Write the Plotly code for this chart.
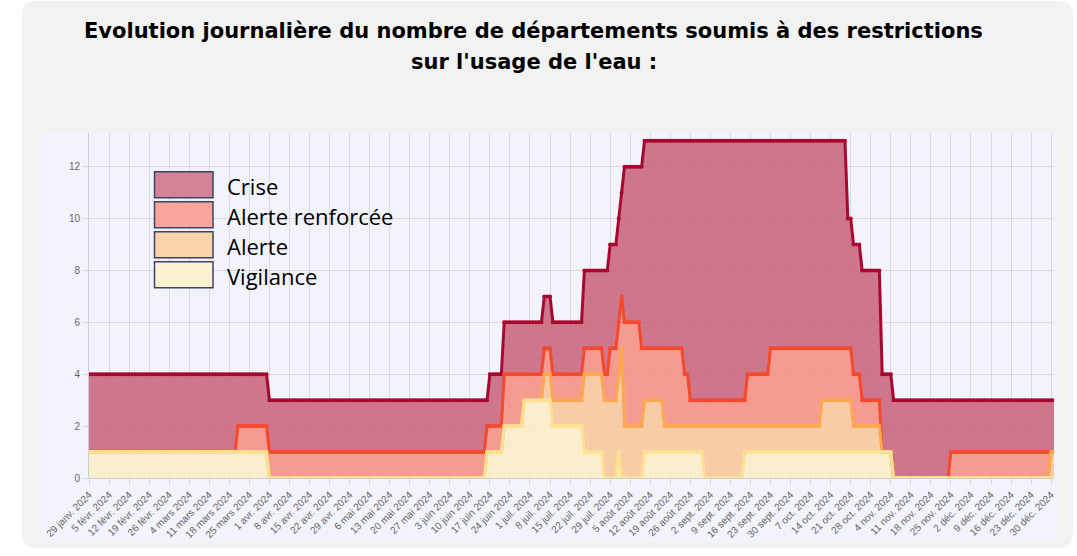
import pandas as pd
import plotly.graph_objects as go

# ---------------- DATA (step series: value holds from each date until the next) -------------
START = "2024-01-29"
END = "2024-12-31"

crise_dates = ["2024-01-29", "2024-04-01", "2024-06-17", "2024-06-22", "2024-07-06", "2024-07-09",
               "2024-07-20", "2024-07-29", "2024-08-01", "2024-08-02", "2024-08-03", "2024-08-10",
               "2024-10-20", "2024-10-22", "2024-10-25", "2024-11-01", "2024-11-05"]
crise_vals = [4, 3, 4, 6, 7, 6, 8, 9, 10, 11, 12, 13, 10, 9, 8, 4, 3]

renf_dates = ["2024-01-29", "2024-03-21", "2024-04-01", "2024-06-16", "2024-06-22", "2024-07-06",
              "2024-07-09", "2024-07-20", "2024-07-27", "2024-07-29", "2024-08-01", "2024-08-02",
              "2024-08-03", "2024-08-09", "2024-08-24", "2024-08-26", "2024-09-15", "2024-09-23",
              "2024-10-22", "2024-10-25", "2024-11-01", "2024-11-05", "2024-11-25"]
renf_vals = [1, 2, 1, 2, 4, 5, 4, 5, 4, 5, 6, 7, 6, 5, 4, 3, 4, 5, 4, 3, 1, 0, 1]

alerte_dates = ["2024-01-29", "2024-04-01", "2024-06-16", "2024-06-22", "2024-06-29", "2024-07-06",
                "2024-07-09", "2024-07-20", "2024-07-27", "2024-08-01", "2024-08-02", "2024-08-03",
                "2024-08-10", "2024-08-17", "2024-10-11", "2024-10-22", "2024-11-01", "2024-11-05",
                "2024-12-30"]
alerte_vals = [1, 0, 1, 2, 3, 4, 3, 4, 3, 4, 5, 2, 3, 2, 3, 2, 1, 0, 1]

vigil_dates = ["2024-01-29", "2024-04-01", "2024-06-16", "2024-06-22", "2024-06-29", "2024-07-09",
               "2024-07-20", "2024-07-27", "2024-08-01", "2024-08-02", "2024-08-10", "2024-08-31",
               "2024-09-14", "2024-11-05"]
vigil_vals = [1, 0, 1, 2, 3, 2, 1, 0, 1, 0, 1, 0, 1, 0]

tick_labels = ["29 janv. 2024", "5 févr. 2024", "12 févr. 2024", "19 févr. 2024", "26 févr. 2024",
               "4 mars 2024", "11 mars 2024", "18 mars 2024", "25 mars 2024", "1 avr. 2024",
               "8 avr. 2024", "15 avr. 2024", "22 avr. 2024", "29 avr. 2024", "6 mai 2024",
               "13 mai 2024", "20 mai 2024", "27 mai 2024", "3 juin 2024", "10 juin 2024",
               "17 juin 2024", "24 juin 2024", "1 juil. 2024", "8 juil. 2024", "15 juil. 2024",
               "22 juil. 2024", "29 juil. 2024", "5 août 2024", "12 août 2024", "19 août 2024",
               "26 août 2024", "2 sept. 2024", "9 sept. 2024", "16 sept. 2024", "23 sept. 2024",
               "30 sept. 2024", "7 oct. 2024", "14 oct. 2024", "21 oct. 2024", "28 oct. 2024",
               "4 nov. 2024", "11 nov. 2024", "18 nov. 2024", "25 nov. 2024", "2 déc. 2024",
               "9 déc. 2024", "16 déc. 2024", "23 déc. 2024", "30 déc. 2024"]

legend_names = ["Crise", "Alerte renforcée", "Alerte", "Vigilance"]
title_lines = ["Evolution journalière du nombre de départements soumis à des restrictions",
               "sur l'usage de l'eau :"]

# ---------------- build ----------------
days = pd.date_range(START, END, freq="D")


def expand(dates, vals):
    s = pd.Series(vals, index=pd.to_datetime(dates))
    return s.reindex(days, method="ffill").values


series = {
    "Crise": expand(crise_dates, crise_vals),
    "Alerte renforcée": expand(renf_dates, renf_vals),
    "Alerte": expand(alerte_dates, alerte_vals),
    "Vigilance": expand(vigil_dates, vigil_vals),
}

line_col = {
    "Crise": "rgb(168,8,45)",
    "Alerte renforcée": "rgb(247,72,44)",
    "Alerte": "rgb(253,168,78)",
    "Vigilance": "rgb(254,226,146)",
}
fill_col = {
    "Crise": "rgba(198,95,120,0.85)",
    "Alerte renforcée": "rgba(246,139,126,0.85)",
    "Alerte": "rgba(247,196,150,0.85)",
    "Vigilance": "rgba(251,236,197,0.85)",
}
legend_box = {
    "Crise": "rgb(212,130,150)",
    "Alerte renforcée": "rgb(250,165,155)",
    "Alerte": "rgb(251,212,170)",
    "Vigilance": "rgb(251,240,210)",
}

fig = go.Figure()

# fills (stacked bands, no overlap)
for i, name in enumerate(["Vigilance", "Alerte", "Alerte renforcée", "Crise"]):
    fig.add_trace(go.Scatter(
        x=days, y=series[name], mode="none",
        fill="tozeroy" if i == 0 else "tonexty",
        fillcolor=fill_col[name], showlegend=False, hoverinfo="skip"))

# lines + points (Vigilance drawn last, on top)
for name in ["Crise", "Alerte renforcée", "Alerte", "Vigilance"]:
    fig.add_trace(go.Scatter(
        x=days, y=series[name], mode="lines+markers", name=name,
        line=dict(color=line_col[name], width=3),
        marker=dict(color=line_col[name], size=4),
        showlegend=False))

W, H = 1077, 556
L, R, T, B = 89, 23, 133, 78
PW, PH = W - L - R, H - T - B


def px(x):
    return (x - L) / PW


def py(y):
    return (H - B - y) / PH


shapes = []
# card
x0, x1, y0, y1, r = px(22), px(1073), py(1), py(548), 14 / PW
ry = 14 / PH
card_path = (f"M {x0 + r},{y0} L {x1 - r},{y0} Q {x1},{y0} {x1},{y0 - ry} "
             f"L {x1},{y1 + ry} Q {x1},{y1} {x1 - r},{y1} L {x0 + r},{y1} "
             f"Q {x0},{y1} {x0},{y1 + ry} L {x0},{y0 - ry} Q {x0},{y0} {x0 + r},{y0} Z")
shapes.append(dict(type="path", xref="paper", yref="paper", path=card_path,
                   fillcolor="rgb(242,242,242)", line=dict(width=0), layer="below"))
# chart panel
shapes.append(dict(type="rect", xref="paper", yref="paper", x0=px(41), x1=px(1058),
                   y0=py(133), y1=py(542), fillcolor="rgb(243,243,252)",
                   line=dict(width=0), layer="below"))

annotations = []
# manual legend
for k, name in enumerate(legend_names):
    top = 171.7 + 30 * k
    shapes.append(dict(type="rect", xref="paper", yref="paper", x0=px(154.5), x1=px(213),
                       y0=py(top), y1=py(top + 26), fillcolor=legend_box[name],
                       line=dict(color="rgb(58,68,104)", width=1.5), layer="above"))
    annotations.append(dict(xref="paper", yref="paper", x=px(225), y=py(top + 14),
                            xanchor="left", yanchor="middle", text=name, showarrow=False,
                            font=dict(family="Open Sans", size=22, color="black")))

# title
for k, t in enumerate(title_lines):
    annotations.append(dict(xref="paper", yref="paper", x=px(533.5), y=py(31 + 31 * k),
                            xanchor="center", yanchor="middle", text=f"<b>{t}</b>",
                            showarrow=False,
                            font=dict(family="DejaVu Sans", size=21, color="black")))

tick_vals = pd.date_range(START, periods=len(tick_labels), freq="7D")

fig.update_layout(
    width=W, height=H,
    margin=dict(l=L, r=R, t=T, b=B, pad=0),
    paper_bgcolor="white", plot_bgcolor="rgb(243,243,252)",
    shapes=shapes, annotations=annotations, showlegend=False,
    xaxis=dict(range=[days[0], days[-1]], tickvals=tick_vals, ticktext=tick_labels,
               tickangle=-45, tickfont=dict(family="Liberation Sans", size=10, color="#666"),
               showgrid=True, gridcolor="rgba(0,0,0,0.1)", gridwidth=1,
               ticks="outside", ticklen=6, tickcolor="rgba(0,0,0,0.1)",
               showline=True, linecolor="rgba(0,0,0,0.15)", zeroline=False),
    yaxis=dict(range=[0, 13.3], tickvals=[0, 2, 4, 6, 8, 10, 12],
               tickfont=dict(family="Liberation Sans", size=10, color="#666"),
               showgrid=True, gridcolor="rgba(0,0,0,0.1)", gridwidth=1,
               ticks="outside", ticklen=6, tickcolor="rgba(0,0,0,0.1)",
               showline=True, linecolor="rgba(0,0,0,0.15)", zeroline=False),
)

fig.write_html("out.html", config={"displayModeBar": False},
               post_script="document.body.style.margin='0';")
